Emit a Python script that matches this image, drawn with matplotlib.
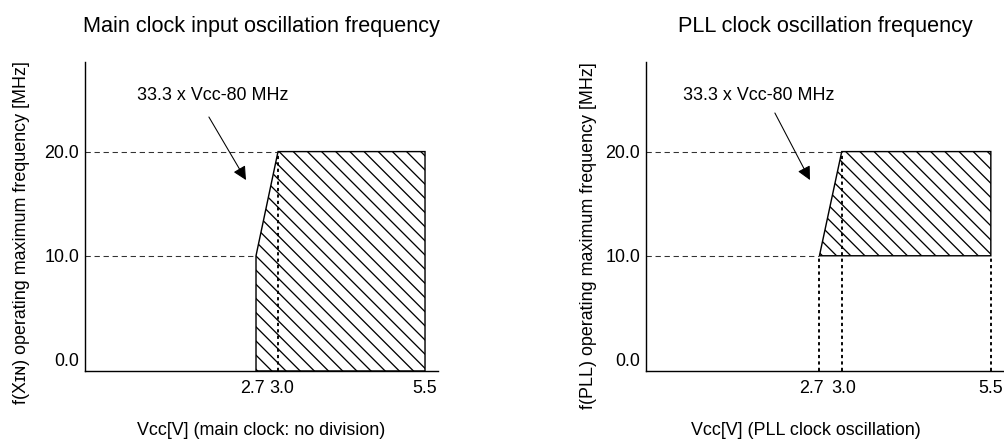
import numpy as np
import matplotlib
matplotlib.use('Agg')
import matplotlib.pyplot as plt
from matplotlib.transforms import ScaledTranslation

plt.rcParams['font.family'] = ['Liberation Sans', 'DejaVu Sans']
plt.rcParams['hatch.linewidth'] = 1.1

# Valores
vcc_ticks = [2.7, 3.0, 5.5]
vcc_labels = ['2.7', '3.0', '5.5']
freq_ticks = [0.0, 10.0, 20.0]
freq_labels = ['0.0', '10.0', '20.0']
y_min, y_max = -1.06, 28.6
x_min, x_max = 0.0, 5.72

# area de operacao do clock principal (vai ate o eixo de baixo)
main_vcc = [2.7, 2.7, 3.0, 5.5, 5.5]
main_freq = [y_min, 10.0, 20.0, 20.0, y_min]
# area de operacao do PLL
pll_vcc = [2.7, 3.0, 5.5, 5.5]
pll_freq = [10.0, 20.0, 20.0, 10.0]

# eixo Vcc esquematico (nao linear no desenho original)
scale_v = [-10.0, 0.0, 2.7, 3.0, 5.5, 20.0]
scale_pos = [-590.0, 0.0, 171.0, 193.0, 340.0, 340.0 + 14.5 * 59]


def fwd(v):
    return np.interp(v, scale_v, scale_pos)


def inv(p):
    return np.interp(p, scale_pos, scale_v)


W, H, DPI = 1004, 441, 85
fig = plt.figure(figsize=(W / DPI, H / DPI), dpi=DPI)

FS = 15.2
dash_kw = dict(color='#333333', lw=0.9, dashes=(5, 3.5))
dot_kw = dict(color='black', lw=1.6, dashes=(1.7, 1.7))
arrow_kw = dict(arrowstyle='-|>', lw=0.9, color='black',
                mutation_scale=24, shrinkA=0, shrinkB=0)


def setup_axes(rect, title, xlabel, ylabel, xlab_pos, ylab_pos, label_shift):
    ax = fig.add_axes(rect)
    ax.set_xscale('function', functions=(fwd, inv))
    ax.set_xlim(x_min, x_max)
    ax.set_ylim(y_min, y_max)
    ax.set_xticks(vcc_ticks, vcc_labels)
    ax.set_yticks(freq_ticks, freq_labels)
    ax.tick_params(length=0, labelsize=FS, pad=5)
    ax.tick_params(axis='x', pad=8)
    ax.xaxis.set_minor_locator(matplotlib.ticker.NullLocator())
    # as etiquetas 2.7 e 3.0 ficam um pouco afastadas no original
    for tick, dx in zip(ax.xaxis.get_major_ticks(), label_shift):
        lab = tick.label1
        lab.set_transform(lab.get_transform() +
                          ScaledTranslation(dx / DPI, 0, fig.dpi_scale_trans))
    for s in ['top', 'right']:
        ax.spines[s].set_visible(False)
    for s in ['left', 'bottom']:
        ax.spines[s].set_linewidth(1.2)
    ax.set_title(title, fontsize=18.3, pad=25)
    ax.set_xlabel(xlabel, fontsize=FS)
    ax.set_ylabel(ylabel, fontsize=FS)
    ax.xaxis.set_label_coords(*xlab_pos)
    ax.yaxis.set_label_coords(*ylab_pos)
    return ax


# Painel esquerdo: clock principal
ax1 = setup_axes([85 / W, 1 - 371 / H, 353 / W, 309 / H],
                 'Main clock input oscillation frequency',
                 'Vᴄᴄ[V] (main clock: no division)',
                 'f(Xɪɴ) operating maximum frequency [MHz]',
                 (0.5, -0.165), (-0.156, 0.447), [-4, 4, 0])
ax1.fill(main_vcc, main_freq, facecolor='white', edgecolor='black',
         hatch='\\\\', lw=1.2, zorder=1)
ax1.plot([x_min, main_vcc[2]], [main_freq[2]] * 2, **dash_kw)
ax1.plot([x_min, main_vcc[1]], [main_freq[1]] * 2, **dash_kw)
ax1.plot([main_vcc[2]] * 2, [y_min, main_freq[2]], **dot_kw)
ax1.text(0.147, 0.89, '33.3 x Vᴄᴄ-80 MHz', transform=ax1.transAxes,
         fontsize=FS, ha='left', va='center')
ax1.annotate('', xy=(0.456, 0.618), xytext=(0.351, 0.822),
             xycoords='axes fraction', textcoords='axes fraction',
             arrowprops=arrow_kw)

# Painel direito: clock do PLL
ax2 = setup_axes([646 / W, 1 - 371 / H, 358 / W, 309 / H],
                 'PLL clock oscillation frequency',
                 'Vᴄᴄ[V] (PLL clock oscillation)',
                 'f(PLL) operating maximum frequency [MHz]',
                 (0.447, -0.165), (-0.137, 0.437), [-8, 2, 0])
ax2.fill(pll_vcc, pll_freq, facecolor='white', edgecolor='black',
         hatch='\\\\', lw=1.2, zorder=1)
ax2.plot([x_min, pll_vcc[1]], [pll_freq[1]] * 2, **dash_kw)
ax2.plot([x_min, pll_vcc[0]], [pll_freq[0]] * 2, **dash_kw)
for v, f in zip(pll_vcc[:3], [pll_freq[0], pll_freq[1], pll_freq[3]]):
    ax2.plot([v, v], [y_min, f], **dot_kw)
ax2.text(0.103, 0.89, '33.3 x Vᴄᴄ-80 MHz', transform=ax2.transAxes,
         fontsize=FS, ha='left', va='center')
ax2.annotate('', xy=(0.458, 0.618), xytext=(0.360, 0.835),
             xycoords='axes fraction', textcoords='axes fraction',
             arrowprops=arrow_kw)

fig.savefig('out.png', dpi=DPI)
